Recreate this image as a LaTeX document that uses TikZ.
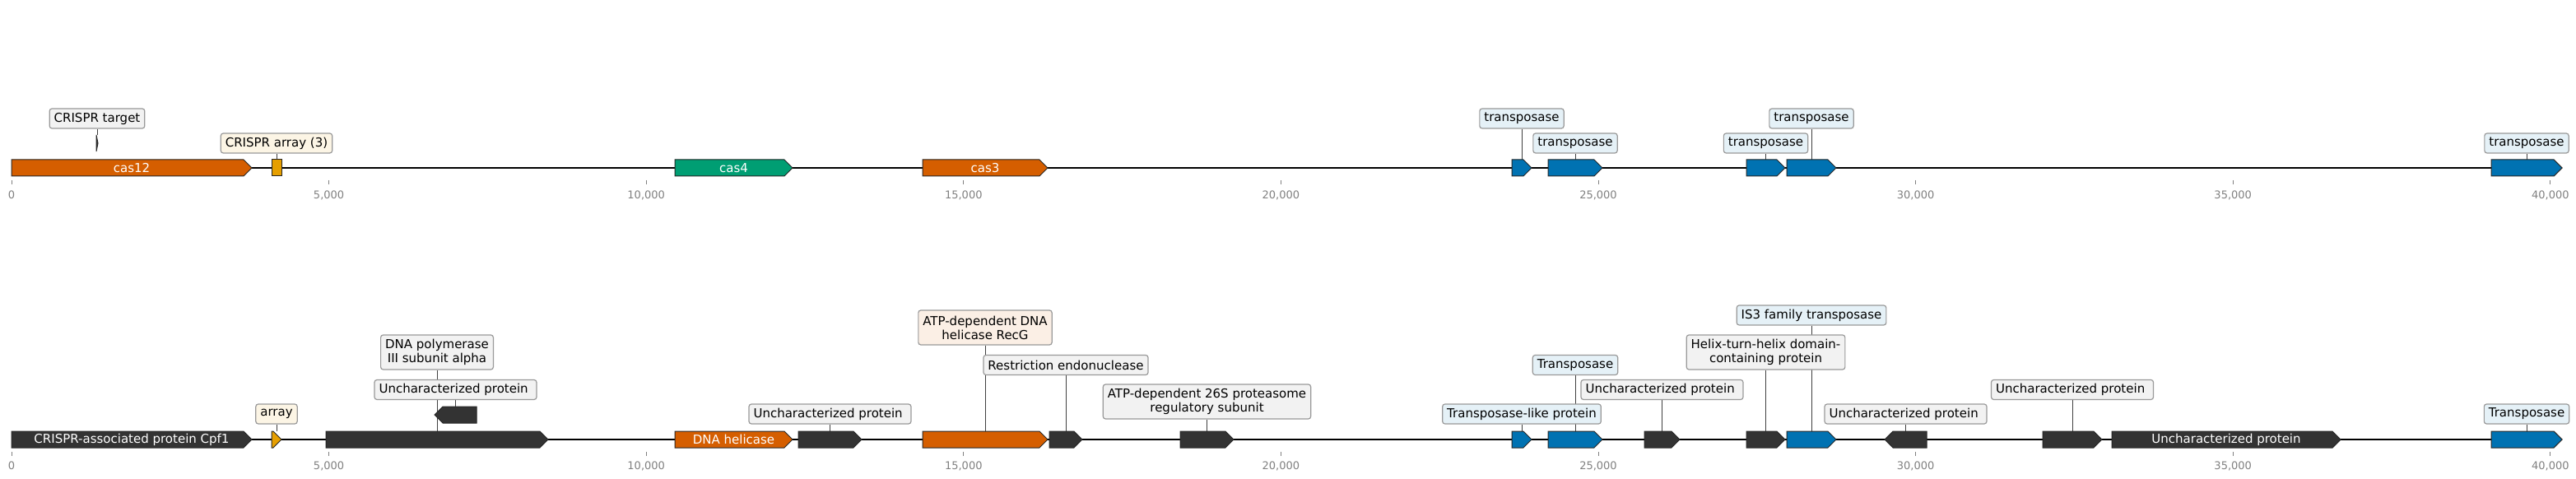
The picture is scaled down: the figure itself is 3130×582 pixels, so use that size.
\documentclass[tikz,border=0pt]{standalone}
\usepackage{fontspec}
\setmainfont{DejaVu Sans}
\usepackage{tikz}
\usetikzlibrary{backgrounds}
\definecolor{casorange}{HTML}{D55E00}
\definecolor{casgreen}{HTML}{009E73}
\definecolor{tnpblue}{HTML}{0072B2}
\definecolor{arrayyellow}{HTML}{E69F00}
\definecolor{othergray}{HTML}{333333}
\definecolor{tickgray}{HTML}{808080}
\colorlet{grayfill}{black!5}
\colorlet{bluefill}{tnpblue!10}
\colorlet{yellowfill}{arrayyellow!10}
\colorlet{orangefill}{casorange!10}
\newcommand{\tagfont}{\fontsize{7.5pt}{8.5pt}\selectfont}
\newcommand{\tickfont}{\fontsize{6.5pt}{7pt}\selectfont}
% gene arrows: name, start, end, top, colour
\newcommand{\fwdgene}[5]{%
\pgfmathsetmacro\hd{min(10,#3-#2)}
\draw[gene, fill=#5] (#2,#4) -- ({#3-\hd},#4) -- (#3,#4+10) -- ({#3-\hd},#4+20) -- (#2,#4+20) -- cycle;
\coordinate (#1) at ({(#2+#3)/2},#4);}
\newcommand{\revgene}[5]{%
\pgfmathsetmacro\hd{min(10,#3-#2)}
\draw[gene, fill=#5] (#3,#4) -- ({#2+\hd},#4) -- (#2,#4+10) -- ({#2+\hd},#4+20) -- (#3,#4+20) -- cycle;
\coordinate (#1) at ({(#2+#3)/2},#4);}
\tikzset{
gene/.style={draw=black!85, line width=0.5pt, line join=miter},
genetext/.style={text=white, font=\tagfont, inner sep=0pt},
track/.style={draw=black, line width=0.8pt},
tag/.style={draw=black!40, rounded corners=1.5pt, line width=0.6pt, inner xsep=2.75pt, inner ysep=1pt, minimum height=12pt, font=\tagfont, align=center},
tagtwo/.style={tag, minimum height=21pt},
link/.style={draw=black!75, line width=0.45pt},
tick/.style={draw=tickgray, line width=0.45pt},
ticklabel/.style={text=tickgray, font=\tickfont, inner sep=0pt},
}
\begin{document}
\begin{tikzpicture}[x=0.5pt, y=-0.5pt]
\useasboundingbox (0,0) rectangle (3130,582);
% first record
\coordinate (s1) at (14,204);
\coordinate (e1) at (3113,204);
\draw[track] (s1) -- (e1);
\fwdgene{g1}{14}{306}{194}{casorange}
\fwdgene{g2}{117}{119}{164}{othergray}
\draw[gene, fill=arrayyellow] (330,194) rectangle (342,214);
\coordinate (g3) at (336,194);
\fwdgene{g4}{820}{963}{194}{casgreen}
\fwdgene{g5}{1121}{1273}{194}{casorange}
\fwdgene{g6}{1837}{1861}{194}{tnpblue}
\fwdgene{g7}{1881}{1947}{194}{tnpblue}
\fwdgene{g8}{2122}{2169}{194}{tnpblue}
\fwdgene{g9}{2171}{2231}{194}{tnpblue}
\fwdgene{g10}{3027}{3113}{194}{tnpblue}
\node[genetext] (t1) at (160,204) {cas12};
\node[genetext] (t4) at (891.5,204) {cas4};
\node[genetext] (t5) at (1197,204) {cas3};
\node[tag, fill=grayfill] (l2) at (118,144) {CRISPR target};
\node[tag, fill=yellowfill] (l3) at (336,174) {CRISPR array (3)};
\node[tag, fill=bluefill] (l6) at (1849,144) {transposase};
\node[tag, fill=bluefill] (l7) at (1914,174) {transposase};
\node[tag, fill=bluefill] (l8) at (2145.5,174) {transposase};
\node[tag, fill=bluefill] (l9) at (2201,144) {transposase};
\node[tag, fill=bluefill] (l10) at (3070,174) {transposase};
% second record
\coordinate (s2) at (14,534);
\coordinate (e2) at (3113,534);
\draw[track] (s2) -- (e2);
\fwdgene{h1}{14}{306}{524}{othergray}
\fwdgene{h2}{330}{342}{524}{arrayyellow}
\fwdgene{h3}{396}{666}{524}{othergray}
\revgene{h4}{528}{579}{494}{othergray}
\fwdgene{h5}{820}{963}{524}{casorange}
\fwdgene{h6}{970}{1047}{524}{othergray}
\fwdgene{h7}{1121}{1273}{524}{casorange}
\fwdgene{h8}{1275}{1315}{524}{othergray}
\fwdgene{h9}{1434}{1499}{524}{othergray}
\fwdgene{h10}{1837}{1861}{524}{tnpblue}
\fwdgene{h11}{1881}{1947}{524}{tnpblue}
\fwdgene{h12}{1998}{2041}{524}{othergray}
\fwdgene{h13}{2122}{2169}{524}{othergray}
\fwdgene{h14}{2171}{2231}{524}{tnpblue}
\revgene{h15}{2290}{2341}{524}{othergray}
\fwdgene{h16}{2482}{2554}{524}{othergray}
\fwdgene{h17}{2566}{2844}{524}{othergray}
\fwdgene{h18}{3027}{3113}{524}{tnpblue}
\node[genetext] (u1) at (160,534) {CRISPR-associated protein Cpf1};
\node[genetext] (u5) at (891.5,534) {DNA helicase};
\node[genetext] (u17) at (2705,534) {Uncharacterized protein};
\node[tag, fill=yellowfill] (m2) at (336,503) {array};
\node[tagtwo, fill=grayfill] (m3) at (531,428) {DNA polymerase\\III subunit alpha};
\node[tag, fill=grayfill] (m4) at (553.5,473.5) {Uncharacterized protein\ };
\node[tag, fill=grayfill] (m6) at (1008.5,503) {Uncharacterized protein\ };
\node[tagtwo, fill=orangefill] (m7) at (1197,398) {ATP-dependent DNA\\helicase RecG};
\node[tag, fill=grayfill] (m8) at (1295,443.5) {Restriction endonuclease};
\node[tagtwo, fill=grayfill] (m9) at (1466.5,488) {ATP-dependent 26S proteasome\\regulatory subunit};
\node[tag, fill=bluefill] (m10) at (1849,503) {Transposase-like protein};
\node[tag, fill=bluefill] (m11) at (1914,443.5) {Transposase};
\node[tag, fill=grayfill] (m12) at (2019.5,473.5) {Uncharacterized protein\ };
\node[tagtwo, fill=grayfill] (m13) at (2145.5,428) {Helix-turn-helix domain-\\containing protein};
\node[tag, fill=bluefill] (m14) at (2201,383) {IS3 family transposase};
\node[tag, fill=grayfill] (m15) at (2315.5,503) {Uncharacterized protein\ };
\node[tag, fill=grayfill] (m16) at (2518,473.5) {Uncharacterized protein\ };
\node[tag, fill=bluefill] (m18) at (3070,503) {Transposase};
% label lines
\begin{pgfonlayer}{background}
\draw[link]
(g2) -- (l2.south) (g3) -- (l3.south) (g6) -- (l6.south) (g7) -- (l7.south)
(g8) -- (l8.south) (g9) -- (l9.south) (g10) -- (l10.south)
(h2) -- (m2.south) (h3) -- (m3.south) (h4) -- (m4.south) (h6) -- (m6.south)
(h7) -- (m7.south) (h8) -- (m8.south) (h9) -- (m9.south) (h10) -- (m10.south)
(h11) -- (m11.south) (h12) -- (m12.south) (h13) -- (m13.south) (h14) -- (m14.south)
(h15) -- (m15.south) (h16) -- (m16.south) (h18) -- (m18.south)
;
\end{pgfonlayer}
% axes
\draw[tick]
(14,219) -- (14,224) (399.6,219) -- (399.6,224) (785.2,219) -- (785.2,224)
(1170.8,219) -- (1170.8,224) (1556.4,219) -- (1556.4,224) (1942,219) -- (1942,224)
(2327.6,219) -- (2327.6,224) (2713.2,219) -- (2713.2,224) (3098.8,219) -- (3098.8,224)
(14,549) -- (14,554) (399.6,549) -- (399.6,554) (785.2,549) -- (785.2,554)
(1170.8,549) -- (1170.8,554) (1556.4,549) -- (1556.4,554) (1942,549) -- (1942,554)
(2327.6,549) -- (2327.6,554) (2713.2,549) -- (2713.2,554) (3098.8,549) -- (3098.8,554)
;
\node[ticklabel] (a0) at (14,237) {0};
\node[ticklabel] (a1) at (399.6,237) {5,000};
\node[ticklabel] (a2) at (785.2,237) {10,000};
\node[ticklabel] (a3) at (1170.8,237) {15,000};
\node[ticklabel] (a4) at (1556.4,237) {20,000};
\node[ticklabel] (a5) at (1942,237) {25,000};
\node[ticklabel] (a6) at (2327.6,237) {30,000};
\node[ticklabel] (a7) at (2713.2,237) {35,000};
\node[ticklabel] (a8) at (3098.8,237) {40,000};
\node[ticklabel] (b0) at (14,566) {0};
\node[ticklabel] (b1) at (399.6,566) {5,000};
\node[ticklabel] (b2) at (785.2,566) {10,000};
\node[ticklabel] (b3) at (1170.8,566) {15,000};
\node[ticklabel] (b4) at (1556.4,566) {20,000};
\node[ticklabel] (b5) at (1942,566) {25,000};
\node[ticklabel] (b6) at (2327.6,566) {30,000};
\node[ticklabel] (b7) at (2713.2,566) {35,000};
\node[ticklabel] (b8) at (3098.8,566) {40,000};
\end{tikzpicture}
\end{document}
